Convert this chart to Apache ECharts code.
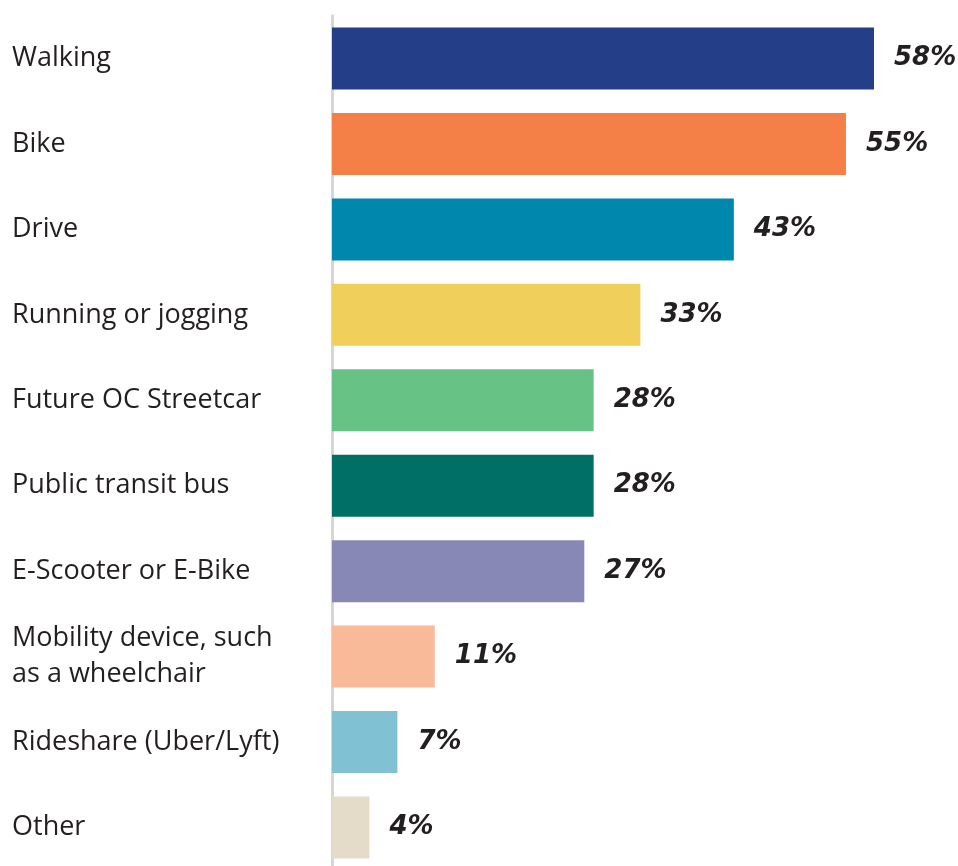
<!DOCTYPE html>
<html>
<head>
<meta charset="utf-8">
<script src="https://cdn.jsdelivr.net/npm/echarts@6/dist/echarts.min.js"></script>
<style>
  html, body { margin: 0; padding: 0; background: #ffffff; }
  #chart { width: 958px; height: 866px; }
</style>
</head>
<body>
<div id="chart"></div>
<script>
// Modes of travel, top to bottom
const categories = [
  'Walking',
  'Bike',
  'Drive',
  'Running or jogging',
  'Future OC Streetcar',
  'Public transit bus',
  'E-Scooter or E-Bike',
  'Mobility device, such\nas a wheelchair',
  'Rideshare (Uber/Lyft)',
  'Other'
];
const shares = [58, 55, 43, 33, 28, 28, 27, 11, 7, 4];
const barColors = [
  '#243f88', '#f47f47', '#0087ad', '#f0cf5a', '#67c285',
  '#007066', '#8888b6', '#f8ba98', '#80c1d4', '#e4dcc8'
];

const chart = echarts.init(document.getElementById('chart'), null, { renderer: 'canvas' });

chart.setOption({
  backgroundColor: '#ffffff',
  animation: false,
  grid: {
    left: 332,
    top: 15.8,
    height: 854.4,
    width: 560.7,
    containLabel: false,
    outerBoundsMode: 'none'
  },
  xAxis: {
    type: 'value',
    min: 0,
    max: 60,
    show: false
  },
  yAxis: {
    type: 'category',
    inverse: true,
    data: categories,
    axisLine: { show: true, lineStyle: { color: '#d6d6d6', width: 3 } },
    axisTick: { show: false },
    axisLabel: {
      margin: 320,
      align: 'left',
      color: '#231f20',
      fontFamily: 'Open Sans',
      fontSize: 27,
      lineHeight: 36,
      padding: [5, 0, 0, 0]
    }
  },
  series: [{
    type: 'bar',
    barWidth: 62,
    data: shares.map((v, i) => ({ value: v, itemStyle: { color: barColors[i] } })),
    label: {
      show: true,
      position: 'right',
      distance: 20,
      formatter: '{c}%',
      color: '#231f20',
      fontFamily: 'DejaVu Sans',
      fontStyle: 'italic',
      fontWeight: 'bold',
      fontSize: 26
    }
  }]
});
</script>
</body>
</html>
